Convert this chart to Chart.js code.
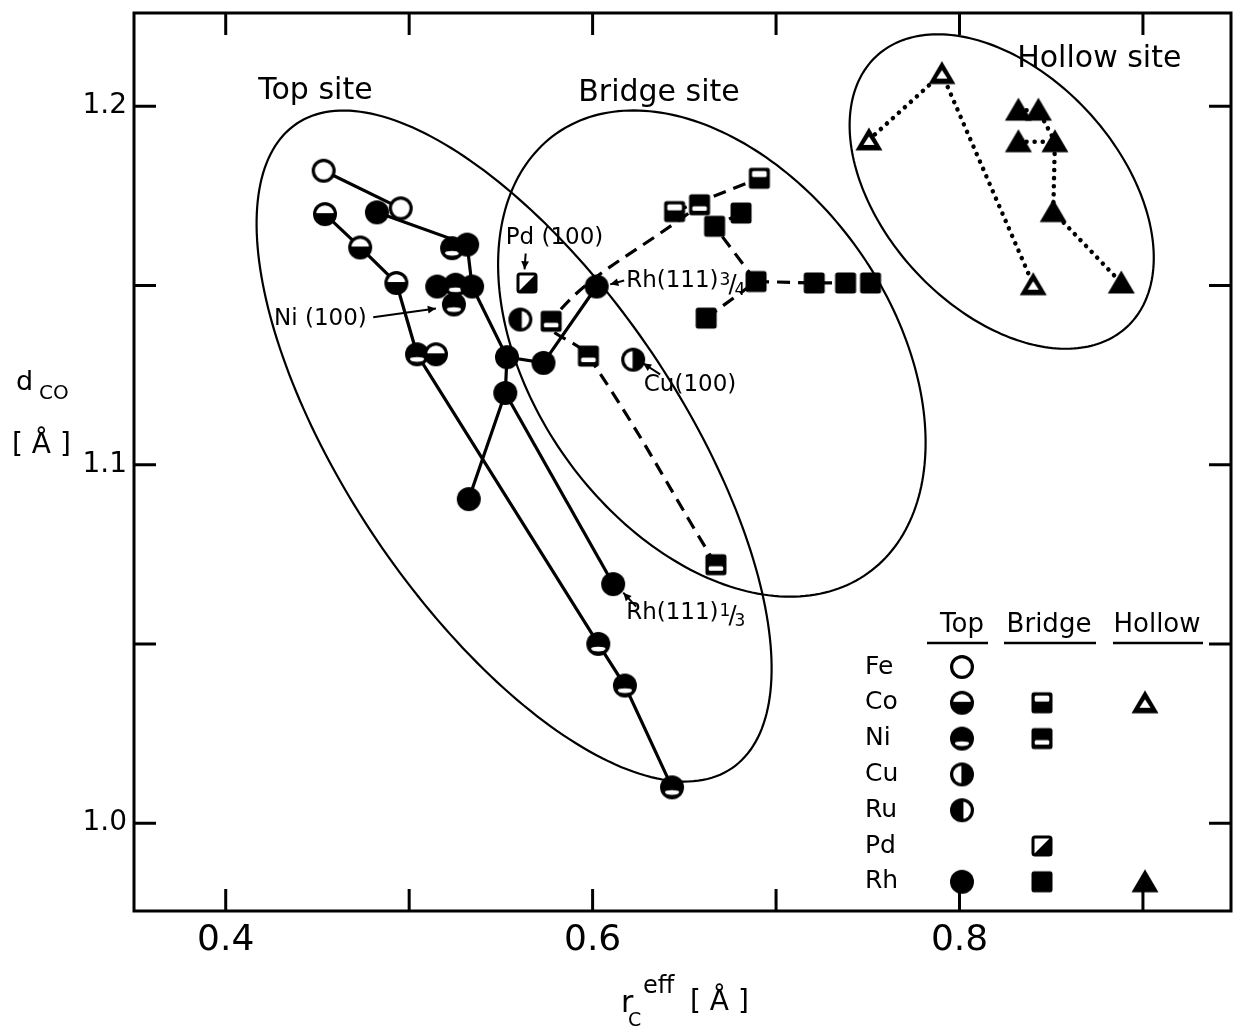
<!DOCTYPE html>
<html><head><meta charset="utf-8">
<script src="https://cdn.jsdelivr.net/npm/chart.js@4.4.1/dist/chart.umd.min.js"></script>
<style>html,body{margin:0;padding:0;background:#fff;}#wrap{width:1244px;height:1026px;position:relative;}</style>
</head><body><div id="wrap"><canvas id="c"></canvas></div>
<script>
// ---------------- data ----------------
const X0 = 0.35, X1 = 0.948, Y0 = 0.9755, Y1 = 1.226;
const xTickValues = [0.4, 0.6, 0.8];
const xTickLabels = ['0.4', '0.6', '0.8'];
const xMinorTicks = [0.4, 0.5, 0.6, 0.7, 0.8, 0.9];
const yTickValues = [1.0, 1.1, 1.2];
const yTickLabels = ['1.0', '1.1', '1.2'];
const yMinorTicks = [1.0, 1.05, 1.1, 1.15, 1.2];

const elements = ['Fe', 'Co', 'Ni', 'Cu', 'Ru', 'Pd', 'Rh'];
const sites = ['top', 'bridge', 'hollow'];
const siteHeaders = ['Top', 'Bridge', 'Hollow'];

// Top site (solid lines)
const topFeX = [0.4534, 0.4954];
const topFeY = [1.1820, 1.1715];
const topFeEl = ['Fe', 'Fe'];
const topCoNiX = [0.4541, 0.4733, 0.4930, 0.5043, 0.6031, 0.6176, 0.6433];
const topCoNiY = [1.1699, 1.1606, 1.1507, 1.1308, 1.0500, 1.0384, 1.0100];
const topCoNiEl = ['Co', 'Co', 'Co', 'Ni', 'Ni', 'Ni', 'Ni'];
const topRhAX = [0.4824, 0.5316, 0.5343, 0.5533, 0.5732, 0.6022];
const topRhAY = [1.1704, 1.1614, 1.1497, 1.1300, 1.1284, 1.1497];
const topRhBX = [0.5533, 0.5524, 0.5325];
const topRhBY = [1.1300, 1.1200, 1.0904];
const topRhCX = [0.5524, 0.6112];
const topRhCY = [1.1200, 1.0667];
const topNiX = [0.5234, 0.5253, 0.5244];
const topNiY = [1.1604, 1.1502, 1.1447];
const topSingleX = [0.5153, 0.5146, 0.5606, 0.6221];
const topSingleY = [1.1497, 1.1308, 1.1405, 1.1293];
const topSingleEl = ['Rh', 'Co', 'Ru', 'Cu'];

// Bridge site (dashed lines)
const brNiX = [0.6672, 0.5977, 0.5774, 0.6583];
const brNiY = [1.0721, 1.1303, 1.1400, 1.1725];
const brCoX = [0.6447, 0.6909];
const brCoY = [1.1706, 1.1799];
const brRhAX = [0.6619, 0.6891, 0.6665, 0.6809];
const brRhAY = [1.1409, 1.1511, 1.1665, 1.1702];
const brRhBX = [0.6891, 0.7208, 0.7379, 0.7515];
const brRhBY = [1.1511, 1.1507, 1.1507, 1.1507];
const brPdX = [0.5642];
const brPdY = [1.1507];

// Hollow site (dotted lines)
const hoCoX = [0.7506, 0.7904, 0.8402];
const hoCoY = [1.1906, 1.2091, 1.1502];
const hoRhAX = [0.8321, 0.8520, 0.8511, 0.8882];
const hoRhAY = [1.1901, 1.1901, 1.1706, 1.1507];
const hoRhBX = [0.8321, 0.8430, 0.8520];
const hoRhBY = [1.1989, 1.1989, 1.1901];

// site regions (ellipses: centre + two conjugate semi-axes, data units)
const regionNames = ['Top site', 'Bridge site', 'Hollow site'];
const regionLabelX = [0.4489, 0.6362, 0.8762];
const regionLabelY = [1.2043, 1.2035, 1.2132];
const regionCenterX = [0.5572, 0.6650, 0.8230];
const regionCenterY = [1.1052, 1.1310, 1.1762];
const regionAxis1 = [[0.11860, -0.08990], [0.08504, -0.06127], [0.06831, -0.03775]];
const regionAxis2 = [[0.07510, 0.02603], [0.07966, 0.02906], [0.04697, 0.02233]];

// annotations
const noteText = ['Pd (100)', 'Ni (100)', 'Cu(100)', 'Rh(111)', 'Rh(111)'];
const noteFrac = [null, null, null, ['3', '4'], ['1', '3']];
const noteX = [0.5792, 0.4516, 0.6531, 0.6183, 0.6183];
const noteY = [1.1631, 1.1406, 1.1222, 1.1511, 1.0587];
const noteAlign = ['center', 'center', 'center', 'left', 'left'];
const arrowFromX = [0.5635, 0.4804, 0.6368, 0.6237, 0.6172];
const arrowFromY = [1.1589, 1.1411, 1.1252, 1.0604, 1.1514];
const arrowToX = [0.5629, 0.5146, 0.6275, 0.6167, 0.6096];
const arrowToY = [1.1545, 1.1436, 1.1283, 1.0643, 1.1503];

// ---------------- drawing helpers ----------------
const FONT = '"DejaVu Sans", "Liberation Sans", sans-serif';

function rrect(g, x, y, w, h, r) {
  g.beginPath();
  g.moveTo(x + r, y); g.lineTo(x + w - r, y); g.quadraticCurveTo(x + w, y, x + w, y + r);
  g.lineTo(x + w, y + h - r); g.quadraticCurveTo(x + w, y + h, x + w - r, y + h);
  g.lineTo(x + r, y + h); g.quadraticCurveTo(x, y + h, x, y + h - r);
  g.lineTo(x, y + r); g.quadraticCurveTo(x, y, x + r, y); g.closePath();
}

const markerCache = {};
function marker(site, el) {
  const key = site + '|' + el;
  if (markerCache[key]) return markerCache[key];
  const S = 30, c = document.createElement('canvas');
  c.width = S; c.height = S;
  const g = c.getContext('2d');
  g.translate(S / 2, S / 2);
  g.fillStyle = '#000'; g.strokeStyle = '#000';
  if (site === 'top') {
    const r = 12;
    if (el === 'Fe') {
      g.beginPath(); g.arc(0, 0, r - 1.6, 0, Math.PI * 2);
      g.fillStyle = '#fff'; g.fill(); g.lineWidth = 3.2; g.stroke();
    } else {
      g.beginPath(); g.arc(0, 0, r, 0, Math.PI * 2); g.fill();
      g.save(); g.beginPath(); g.arc(0, 0, r - 3.2, 0, Math.PI * 2); g.clip();
      g.fillStyle = '#fff';
      if (el === 'Co') g.fillRect(-r, -r, 2 * r, r * 0.92);
      else if (el === 'Ni') { g.beginPath(); g.ellipse(0, r * 0.42, r * 0.62, r * 0.2, 0, 0, Math.PI * 2); g.fill(); }
      else if (el === 'Cu') g.fillRect(-r, -r, r * 0.95, 2 * r);
      else if (el === 'Ru') g.fillRect(r * 0.12, -r, r, 2 * r);
      g.restore();
    }
  } else if (site === 'bridge') {
    const h = 10.5;
    if (el === 'Pd') {
      rrect(g, -h + 1.5, -h + 1.5, 2 * h - 3, 2 * h - 3, 2); g.fillStyle = '#fff'; g.fill();
      g.lineWidth = 3; g.stroke();
      g.fillStyle = '#000';
      g.beginPath(); g.moveTo(h - 1.5, -h + 1.5); g.lineTo(h - 1.5, h - 1.5); g.lineTo(-h + 1.5, h - 1.5); g.closePath(); g.fill();
    } else {
      rrect(g, -h, -h, 2 * h, 2 * h, 2.5); g.fill();
      g.fillStyle = '#fff';
      if (el === 'Co') { rrect(g, -h + 3.2, -h + 3.2, 2 * h - 6.4, 6, 1.5); g.fill(); }
      else if (el === 'Ni') { rrect(g, -h + 3.2, 1.5, 2 * h - 6.4, 4.5, 1.5); g.fill(); }
    }
  } else {
    g.beginPath(); g.moveTo(0, -12.5); g.lineTo(13.5, 10.5); g.lineTo(-13.5, 10.5); g.closePath(); g.fill();
    if (el === 'Co') {
      g.fillStyle = '#fff';
      g.beginPath(); g.moveTo(0, -3.5); g.lineTo(5.5, 5); g.lineTo(-5.5, 5); g.closePath(); g.fill();
    }
  }
  markerCache[key] = c;
  return c;
}

// ---------------- build datasets ----------------
const seriesTable = [
  { site: 'top', style: 'solid', x: topFeX, y: topFeY, el: topFeEl },
  { site: 'top', style: 'solid', x: topCoNiX, y: topCoNiY, el: topCoNiEl },
  { site: 'top', style: 'solid', x: topRhAX, y: topRhAY, el: 'Rh' },
  { site: 'top', style: 'solid', x: topRhBX, y: topRhBY, el: 'Rh' },
  { site: 'top', style: 'solid', x: topRhCX, y: topRhCY, el: 'Rh' },
  { site: 'top', style: 'none', x: topNiX, y: topNiY, el: 'Ni' },
  { site: 'top', style: 'none', x: topSingleX, y: topSingleY, el: topSingleEl },
  { site: 'bridge', style: 'dashed', x: brNiX, y: brNiY, el: 'Ni', tension: 0.4 },
  { site: 'bridge', style: 'dashed', x: brCoX, y: brCoY, el: 'Co' },
  { site: 'bridge', style: 'dashed', x: brRhAX, y: brRhAY, el: 'Rh' },
  { site: 'bridge', style: 'dashed', x: brRhBX, y: brRhBY, el: 'Rh' },
  { site: 'bridge', style: 'none', x: brPdX, y: brPdY, el: 'Pd' },
  { site: 'hollow', style: 'dotted', x: hoCoX, y: hoCoY, el: 'Co' },
  { site: 'hollow', style: 'dotted', x: hoRhAX, y: hoRhAY, el: 'Rh' },
  { site: 'hollow', style: 'dotted', x: hoRhBX, y: hoRhBY, el: 'Rh' },
];
const lineStyles = {
  solid: { borderWidth: 3.2, borderDash: [] },
  dashed: { borderWidth: 3.2, borderDash: [13, 8] },
  dotted: { borderWidth: 4.5, borderDash: [0.1, 8], borderCapStyle: 'round' },
};
const drawRank = { Rh: 1, Pd: 2, Ru: 3, Cu: 4, Fe: 5, Co: 6, Ni: 7 };

const datasets = [];
const groups = {};
const present = {};
seriesTable.forEach(s => {
  const pts = s.x.map((v, i) => ({ x: v, y: s.y[i] }));
  if (s.style !== 'none') {
    datasets.push(Object.assign({
      data: pts, showLine: true, borderColor: '#000', pointRadius: 0, pointHitRadius: 0,
      tension: s.tension || 0, fill: false, order: 50
    }, lineStyles[s.style]));
  }
  pts.forEach((p, i) => {
    const el = typeof s.el === 'string' ? s.el : s.el[i];
    const key = s.site + '|' + el;
    present[key] = true;
    groups[key] = groups[key] || { site: s.site, el: el, data: [] };
    if (!groups[key].data.some(q => q.x === p.x && q.y === p.y)) groups[key].data.push(p);
  });
});
Object.values(groups).forEach(gp => {
  datasets.push({
    data: gp.data, showLine: false, pointStyle: marker(gp.site, gp.el),
    pointRadius: 12, pointHoverRadius: 12, order: drawRank[gp.el]
  });
});

// ---------------- decoration plugin ----------------
function arrowHead(ctx, x1, y1, x2, y2, size) {
  const a = Math.atan2(y2 - y1, x2 - x1);
  ctx.beginPath();
  ctx.moveTo(x2, y2);
  ctx.lineTo(x2 - size * Math.cos(a - 0.45), y2 - size * Math.sin(a - 0.45));
  ctx.lineTo(x2 - size * Math.cos(a + 0.45), y2 - size * Math.sin(a + 0.45));
  ctx.closePath(); ctx.fill();
}

const decor = {
  id: 'decor',
  beforeDatasetsDraw(chart) {
    const { ctx, scales: { x, y } } = chart;
    ctx.save();
    ctx.lineWidth = 2.2; ctx.strokeStyle = '#000';
    for (let k = 0; k < regionNames.length; k++) {
      ctx.beginPath();
      for (let s = 0; s <= 240; s++) {
        const t = s / 240 * 2 * Math.PI;
        const vx = regionCenterX[k] + regionAxis1[k][0] * Math.cos(t) + regionAxis2[k][0] * Math.sin(t);
        const vy = regionCenterY[k] + regionAxis1[k][1] * Math.cos(t) + regionAxis2[k][1] * Math.sin(t);
        const px = x.getPixelForValue(vx), py = y.getPixelForValue(vy);
        if (s) ctx.lineTo(px, py); else ctx.moveTo(px, py);
      }
      ctx.closePath(); ctx.stroke();
    }
    ctx.restore();
  },
  afterDatasetsDraw(chart) {
    const { ctx, chartArea: a, scales: { x, y } } = chart;
    ctx.save();
    ctx.strokeStyle = '#000'; ctx.fillStyle = '#000';
    // frame
    ctx.lineWidth = 3;
    ctx.strokeRect(a.left, a.top, a.right - a.left, a.bottom - a.top);
    // inward ticks
    const TL = 22;
    ctx.lineWidth = 3;
    xMinorTicks.forEach(v => {
      const px = x.getPixelForValue(v);
      ctx.beginPath(); ctx.moveTo(px, a.bottom); ctx.lineTo(px, a.bottom - TL);
      ctx.moveTo(px, a.top); ctx.lineTo(px, a.top + TL); ctx.stroke();
    });
    yMinorTicks.forEach(v => {
      const py = y.getPixelForValue(v);
      ctx.beginPath(); ctx.moveTo(a.left, py); ctx.lineTo(a.left + TL, py);
      ctx.moveTo(a.right, py); ctx.lineTo(a.right - TL, py); ctx.stroke();
    });
    // region labels
    ctx.font = '30px ' + FONT; ctx.textAlign = 'center'; ctx.textBaseline = 'middle';
    regionNames.forEach((t, k) => ctx.fillText(t, x.getPixelForValue(regionLabelX[k]), y.getPixelForValue(regionLabelY[k])));
    // notes
    noteText.forEach((t, k) => {
      const px = x.getPixelForValue(noteX[k]), py = y.getPixelForValue(noteY[k]);
      ctx.font = '23px ' + FONT; ctx.textAlign = noteAlign[k]; ctx.textBaseline = 'middle';
      ctx.fillText(t, px, py);
      if (noteFrac[k]) {
        let xx = px + ctx.measureText(t).width + 1;
        ctx.textAlign = 'left'; ctx.textBaseline = 'alphabetic';
        ctx.font = '17px ' + FONT; ctx.fillText(noteFrac[k][0], xx, py + 3); xx += ctx.measureText(noteFrac[k][0]).width;
        ctx.font = '24px ' + FONT; ctx.fillText('/', xx - 2, py + 10); xx += ctx.measureText('/').width - 4;
        ctx.font = '17px ' + FONT; ctx.fillText(noteFrac[k][1], xx, py + 13);
      }
    });
    // arrows
    ctx.lineWidth = 2;
    arrowFromX.forEach((v, k) => {
      const x1 = x.getPixelForValue(v), y1 = y.getPixelForValue(arrowFromY[k]);
      const x2 = x.getPixelForValue(arrowToX[k]), y2 = y.getPixelForValue(arrowToY[k]);
      ctx.beginPath(); ctx.moveTo(x1, y1); ctx.lineTo(x2, y2); ctx.stroke();
      arrowHead(ctx, x1, y1, x2, y2, 9);
    });
    // legend table
    const L = { labelX: 865, colX: [962, 1042, 1145], headY: 632, lineY: 643,
      under: [[927, 988], [1004, 1096], [1113, 1203]], rowY0: 667, rowDy: 35.8 };
    ctx.font = '26px ' + FONT; ctx.textAlign = 'center'; ctx.textBaseline = 'alphabetic';
    siteHeaders.forEach((h, j) => {
      ctx.fillText(h, L.colX[j] + (j === 2 ? 12 : (j === 1 ? 7 : 0)), L.headY);
      ctx.lineWidth = 2.5;
      ctx.beginPath(); ctx.moveTo(L.under[j][0], L.lineY); ctx.lineTo(L.under[j][1], L.lineY); ctx.stroke();
    });
    ctx.textAlign = 'left'; ctx.textBaseline = 'middle'; ctx.font = '25px ' + FONT;
    elements.forEach((el, i) => {
      const ry = L.rowY0 + i * L.rowDy;
      ctx.fillText(el, L.labelX, ry);
      sites.forEach((s, j) => {
        if (present[s + '|' + el]) {
          const m = marker(s, el);
          ctx.drawImage(m, L.colX[j] - m.width / 2, ry - m.height / 2);
        }
      });
    });
    // axis titles
    ctx.textAlign = 'left'; ctx.textBaseline = 'alphabetic';
    ctx.font = '27px ' + FONT; ctx.fillText('d', 16, 390);
    ctx.font = '20px ' + FONT; ctx.fillText('CO', 39, 399);
    ctx.font = '28px ' + FONT; ctx.fillText('[ Å ]', 12, 453);
    ctx.font = '30px ' + FONT; ctx.fillText('r', 621, 1012);
    ctx.font = '24px ' + FONT; ctx.fillText('eff', 643, 993);
    ctx.font = '19px ' + FONT; ctx.fillText('C', 628, 1026);
    ctx.font = '28px ' + FONT; ctx.fillText('[ Å ]', 690, 1010);
    ctx.restore();
  }
};

new Chart(document.getElementById('c'), {
  type: 'scatter',
  data: { datasets },
  options: {
    responsive: true, maintainAspectRatio: false, animation: false, events: [],
    layout: { padding: { left: 0, right: 9, top: 11, bottom: 0 } },
    plugins: { legend: { display: false }, tooltip: { enabled: false } },
    scales: {
      x: {
        type: 'linear', min: X0, max: X1,
        afterBuildTicks: s => { s.ticks = xTickValues.map(v => ({ value: v })); },
        afterFit: s => { s.height = 115; s.paddingLeft = 0; s.paddingRight = 0; s.paddingTop = 0; s.paddingBottom = 0; },
        grid: { display: false, drawTicks: false }, border: { display: false },
        ticks: { autoSkip: false, maxRotation: 0, padding: 8, color: '#000',
          font: { size: 36, family: FONT }, callback: (v, i) => xTickLabels[i] }
      },
      y: {
        type: 'linear', min: Y0, max: Y1,
        afterBuildTicks: s => { s.ticks = yTickValues.map(v => ({ value: v })); },
        afterFit: s => { s.width = 134; s.paddingLeft = 0; s.paddingRight = 0; s.paddingTop = 0; s.paddingBottom = 0; },
        grid: { display: false, drawTicks: false }, border: { display: false },
        ticks: { autoSkip: false, padding: 7, color: '#000',
          font: { size: 28, family: FONT }, callback: (v, i) => yTickLabels[i] }
      }
    }
  },
  plugins: [decor]
});
</script>
</body></html>
